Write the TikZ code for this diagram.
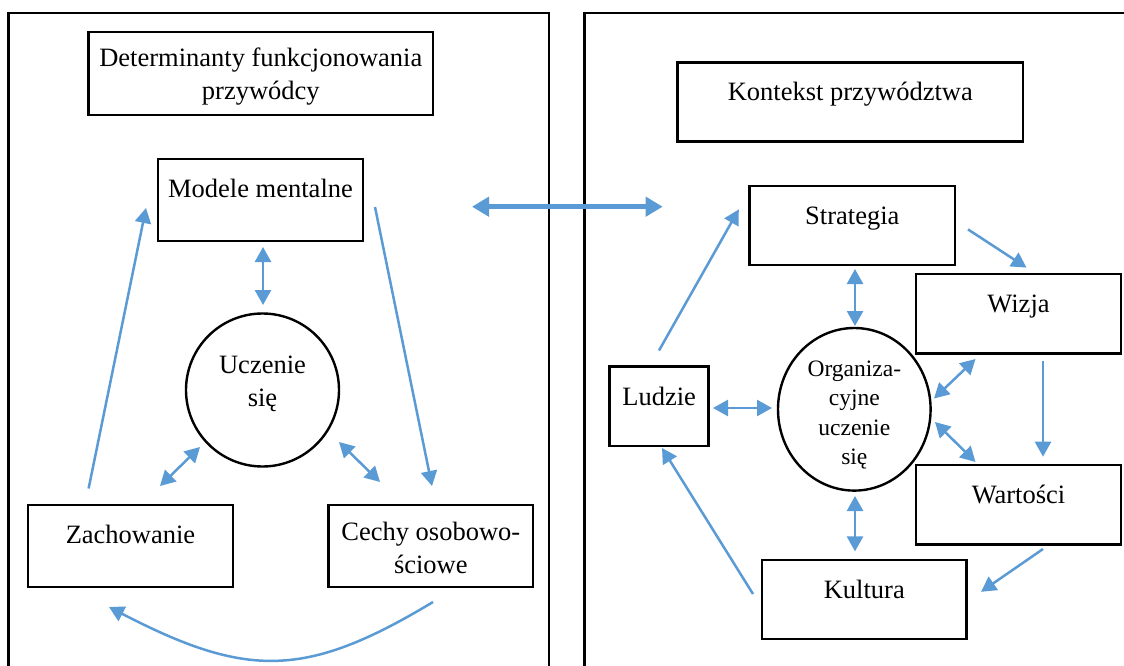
\documentclass[tikz,border=0pt]{standalone}
\usepackage{fontspec}
\setmainfont{Liberation Serif}
\usetikzlibrary{arrows.meta,calc,shapes.geometric}
\definecolor{arrowblue}{RGB}{91,155,213}
\begin{document}
\begin{tikzpicture}[x=1pt,y=-1pt,
  box/.style={draw=black, line width=2.4pt, inner sep=0pt, outer sep=0pt},
  panel/.style={draw=black, line width=2.4pt, inner sep=0pt, outer sep=0pt},
  txt/.style={font=\fontsize{26.5}{33}\selectfont, align=center, anchor=base, inner sep=0pt},
  otxt/.style={font=\fontsize{23.5}{29.5}\selectfont, align=center, anchor=base, inner sep=0pt},
  arr/.style={draw=arrowblue, line width=2.5pt, -{Triangle[length=15pt,width=16pt]}},
  darr/.style={draw=arrowblue, line width=2.5pt, {Triangle[length=15pt,width=16pt]}-{Triangle[length=15pt,width=16pt]}},
  bigarr/.style={draw=arrowblue, line width=4.8pt, {Triangle[length=17pt,width=19pt]}-{Triangle[length=17pt,width=19pt]}}
]
\useasboundingbox (0,0) rectangle (1124,666);
\fill[white] (0,0) rectangle (1124,666);
\clip (0,0) rectangle (1124,666);

% panels
\node[panel, minimum width=540.5pt, minimum height=694pt] (lpanel) at (278.75,360) {};
\node[panel, minimum width=560pt, minimum height=694pt] (rpanel) at (864.5,360) {};

% left boxes
\node[box, minimum width=344.4pt, minimum height=83pt] (title) at (260.8,73.5) {};
\node[txt] (titlet) at ($(title.north)+(0,67.7)$) {Determinanty funkcjonowania\\przywódcy};
\node[box, minimum width=205pt, minimum height=82pt] (modele) at (260.5,200) {};
\node[txt] (modelet) at ($(modele.north)+(0,38)$) {Modele mentalne};
\node[box, circle, minimum size=153pt] (ucz) at (262.5,390) {};
\node[txt] (uczt) at (262.5,406) {Uczenie\\się};
\node[box, minimum width=205pt, minimum height=82pt] (zach) at (130.5,546) {};
\node[txt] (zacht) at ($(zach.north)+(0,38.5)$) {Zachowanie};
\node[box, minimum width=204.4pt, minimum height=82pt] (cechy) at (430.8,546) {};
\node[txt] (cechyt) at ($(cechy.north)+(0,68)$) {Cechy osobowo-\\ściowe};

% right boxes
\node[box, minimum width=345.4pt, minimum height=79pt] (kont) at (850.3,102) {};
\node[txt] (kontt) at ($(kont.north)+(0,38.5)$) {Kontekst przywództwa};
\node[box, minimum width=205.4pt, minimum height=79pt] (strat) at (852.3,225.2) {};
\node[txt] (stratt) at ($(strat.north)+(0,38.5)$) {Strategia};
\node[box, minimum width=205pt, minimum height=79.4pt] (wizja) at (1018.5,313.7) {};
\node[txt] (wizjat) at ($(wizja.north)+(0,38.5)$) {Wizja};
\node[box, minimum width=205pt, minimum height=79.6pt] (wart) at (1018.5,504.8) {};
\node[txt] (wartt) at ($(wart.north)+(0,38.5)$) {Wartości};
\node[box, minimum width=204.5pt, minimum height=79pt] (kult) at (864.3,599.5) {};
\node[txt] (kultt) at ($(kult.north)+(0,38.5)$) {Kultura};
\node[box, minimum width=99pt, minimum height=79.4pt] (ludzie) at (659.1,406.3) {};
\node[txt] (ludziet) at ($(ludzie.north)+(0,38.5)$) {Ludzie};
\node[box, ellipse, minimum width=152.6pt, minimum height=162.6pt] (org) at (854.3,409.3) {};
\node[otxt] (orgt) at (854.3,464.5) {Organiza-\\cyjne\\uczenie\\się};

% left arrows
\draw[arr] ($(zach.center)+(-41.9,-57.5)$) -- ($(modele.center)+(-114.5,8)$);
\draw[arr] ($(modele.center)+(114.5,7)$) -- ($(cechy.center)+(1.2,-60)$);
\draw[darr] ($(modele.center)+(2.5,47)$) -- ($(ucz.center)+(0.5,-85)$);
\draw[darr] ($(ucz.center)+(-62.5,57)$) -- ($(zach.center)+(29.5,-60)$);
\draw[darr] ($(ucz.center)+(76.5,52)$) -- ($(cechy.center)+(-50.8,-64)$);
\draw[arr] ($(cechy.center)+(2.2,56)$) .. controls ($(cechy.center)+(-124.8,132.5)$) and ($(zach.center)+(116.5,132.5)$) .. ($(zach.center)+(-21.5,61)$);

% central arrow
\draw[bigarr] ($(lpanel.north east)+(-77,193.7)$) -- ($(rpanel.north west)+(78.2,193.7)$);

% right arrows
\draw[arr] ($(ludzie.center)+(-0.1,-55.8)$) -- ($(strat.center)+(-113.5,-15.8)$);
\draw[arr] ($(strat.center)+(115.7,4.2)$) -- ($(wizja.center)+(8,-46.1)$);
\draw[arr] ($(wizja.center)+(24.5,47.3)$) -- ($(wart.center)+(24.5,-48.1)$);
\draw[arr] ($(wart.center)+(24.5,44.2)$) -- ($(kult.center)+(116.7,-7.7)$);
\draw[arr] ($(kult.center)+(-111.3,-5.5)$) -- ($(ludzie.center)+(2.9,41.7)$);
\draw[darr] ($(strat.center)+(2.7,43.8)$) -- ($(org.center)+(0.7,-83.3)$);
\draw[darr] ($(ludzie.center)+(53.9,1.7)$) -- ($(org.center)+(-82.3,-1.3)$);
\draw[darr] ($(org.center)+(79.7,-10.8)$) -- ($(wizja.center)+(-43,45.3)$);
\draw[darr] ($(org.center)+(80.7,12.7)$) -- ($(wart.center)+(-43,-42.8)$);
\draw[darr] ($(org.center)+(0.7,86.7)$) -- ($(kult.center)+(-9.3,-48.1)$);
\end{tikzpicture}
\end{document}
